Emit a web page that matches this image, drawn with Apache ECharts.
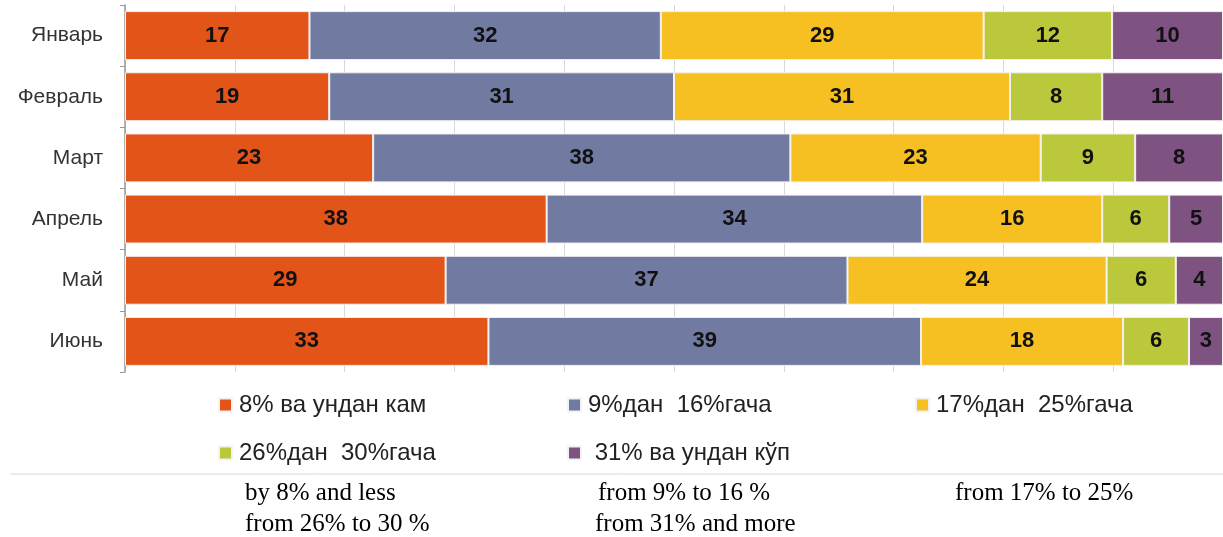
<!DOCTYPE html>
<html>
<head>
<meta charset="utf-8">
<script src="https://cdn.jsdelivr.net/npm/echarts@6/dist/echarts.min.js"></script>
<style>
html,body{margin:0;padding:0;background:#fff;}
#c{width:1223px;height:537px;}
</style>
</head>
<body>
<div id="c"></div>
<script>
const categories = ['Январь','Февраль','Март','Апрель','Май','Июнь'];
const seriesNames = ['8% ва ундан кам','9%дан  16%гача','17%дан  25%гача','26%дан  30%гача',' 31% ва ундан кўп'];
const englishNames = ['by 8% and less','from 9% to 16 %','from 17% to 25%','from 26% to 30 %','from 31% and more'];
const s1 = [16.8, 18.6, 22.6, 38.4, 29.2, 33.1];
const s2 = [32.0, 31.4, 38.0, 34.2, 36.6, 39.4];
const s3 = [29.4, 30.6, 22.8, 16.4, 23.6, 18.4];
const s4 = [11.7, 8.4, 8.6, 6.1, 6.3, 6.0];
const s5 = [10.1, 11.0, 8.0, 4.9, 4.3, 3.1];
const xTicks = [0,10,20,30,40,50,60,70,80,90,100];

const colors = ['#E25418','#717BA2','#F6BF22','#BCC83B','#7E5381'];
const allData = [s1,s2,s3,s4,s5];
const sans = '"Liberation Sans Narrow","Arial Narrow","Liberation Sans",Arial,sans-serif';
const serif = '"Liberation Serif","Times New Roman",serif';

const series = allData.map((d,i)=>({
  name: seriesNames[i],
  type: 'bar',
  stack: 'total',
  data: d,
  barCategoryGap: '20%',
  itemStyle: {color: colors[i], borderColor: '#f2f2f2', borderWidth: 1},
  label: {
    show: true,
    position: 'inside',
    color: '#111',
    fontFamily: sans,
    fontWeight: 'bold',
    fontSize: 22,
    formatter: p => String(Math.round(p.value))
  }
}));

const legendPos = [[218,393],[567,393],[915,393],[218,441],[567,441]];
const legends = seriesNames.map((n,i)=>({
  data:[n],
  left: legendPos[i][0],
  top: legendPos[i][1],
  padding: 0,
  icon: 'rect',
  itemWidth: 13,
  itemHeight: 13,
  itemGap: 0,
  selectedMode: false,
  textStyle: {color:'#222', fontFamily: sans, fontSize: 24, padding:[0,0,0,2]}
}));

const engPos = [[245,494],[598,494],[955,494],[245,525],[595,525]];
const graphics = [
  {type:'line', shape:{x1:10,y1:474,x2:1223,y2:474}, style:{stroke:'#d9d9d9', lineWidth:1}}
].concat(englishNames.map((t,i)=>({
  type:'text', left: engPos[i][0], top: engPos[i][1]-13,
  style:{text:t, fill:'#000', font:'25px '+serif}
})));

const chart = echarts.init(document.getElementById('c'));
chart.setOption({
  animation:false,
  grid:{left:125, top:5, width:1100, height:367, containLabel:false},
  xAxis:{
    type:'value', min:xTicks[0], max:xTicks[xTicks.length-1], interval:10,
    axisLabel:{show:false}, axisLine:{show:false}, axisTick:{show:false},
    splitLine:{show:true, lineStyle:{color:'#d9d9d9', width:1}}
  },
  yAxis:{
    type:'category', data:categories, inverse:true,
    axisLine:{show:true, lineStyle:{color:'#999', width:1.5}},
    axisTick:{show:true, length:5, lineStyle:{color:'#999'}},
    axisLabel:{color:'#333', fontFamily:sans, fontSize:21, margin:22}
  },
  legend: legends,
  series: series,
  graphic: graphics
});
</script>
</body>
</html>
